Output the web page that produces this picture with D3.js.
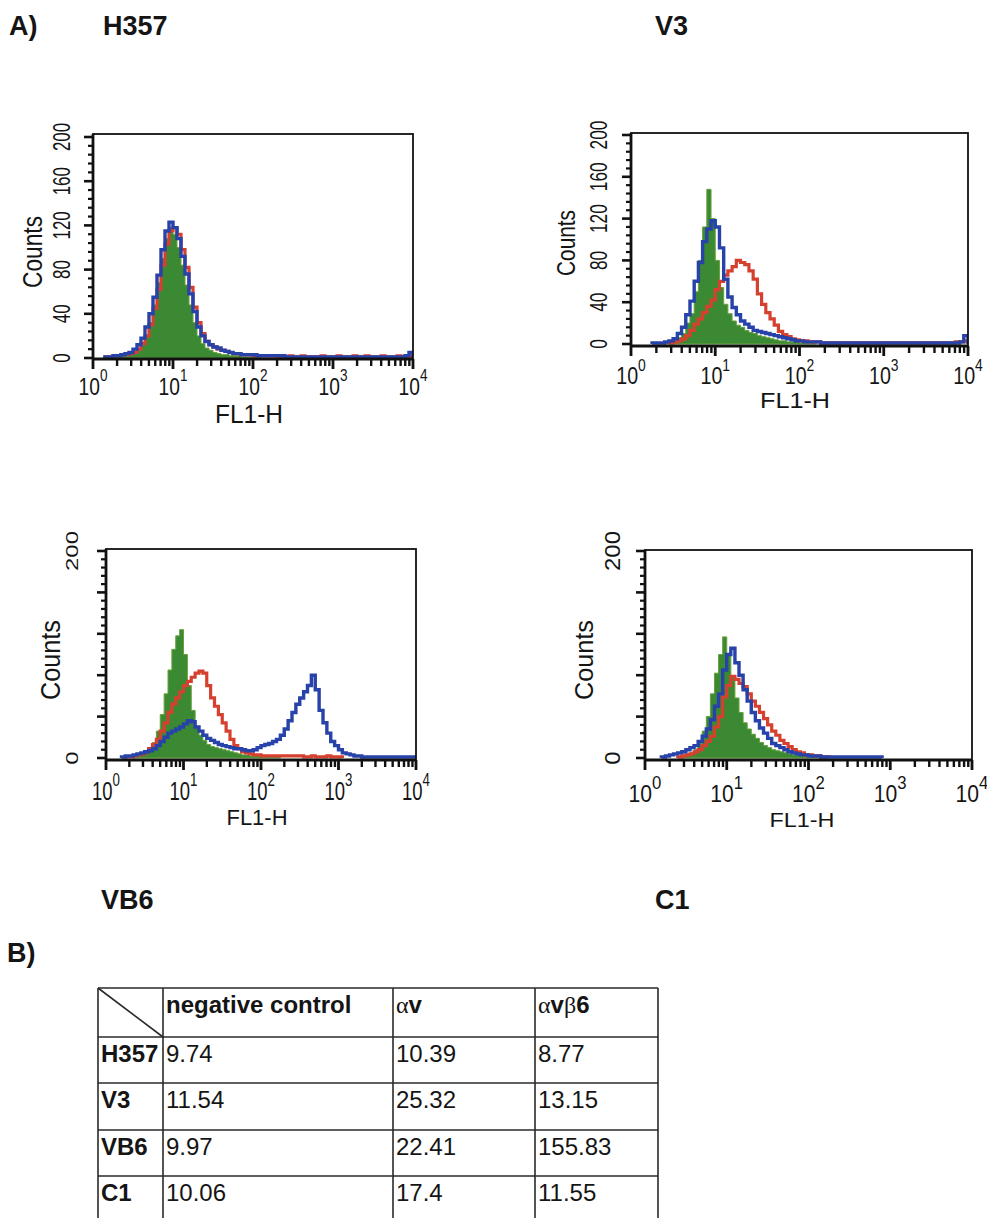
<!DOCTYPE html>
<html><head><meta charset="utf-8">
<script src="https://cdn.jsdelivr.net/npm/d3@7"></script>
<style>
body{margin:0;background:#fff}
svg{display:block}
text{font-family:"Liberation Sans",Arial,Helvetica,sans-serif;fill:#151515}
</style>
</head><body>
<svg id="chart" width="987" height="1218"></svg>
<script>
// ---------------- DATA ----------------
const cellLines = ["H357", "V3", "VB6", "C1"];
const seriesNames = ["negative control", "αv", "αvβ6"];
const binWidthLog = 0.05; // histogram channel width in log10 units, starting at 10^0

// Counts per channel
const h357Neg  = [0,0,0,0,1,1,1,2,2,3, 4,7,12,20,32,48,68,90,108,118, 112,100,84,66,48,32,20,13,9,7, 5,4,3,3,2,2,2,1,1,1, 1,1];
const h357Av   = [0,0,0,1,1,2,2,3,3,4, 5,8,13,20,30,45,62,84,103,115, 118,112,98,82,64,46,32,22,15,12, 10,8,7,6,5,4,4,3,3,3, 2,2,2,2,2,2,1,1,1,2, 1,1,2,1,1,1,1,2,1,1, 1,2,1,1,1,2,1,1,2,1, 1,1,2,1,1,1,2,1,1,2];
const h357Avb6 = [0,0,0,1,1,2,2,3,4,5, 8,12,18,28,40,55,75,98,115,123, 118,108,92,76,58,42,28,20,15,12, 10,9,7,6,5,4,4,3,3,3, 3,2,2,2,2,2,2,2,1,1, 1,1,1,1,1,1,1,1,1,1, 1,1,1,1,1,1,1,1,1,1, 1,1,1,1,1,1,1,1,2,5];

const v3Neg  = [0,0,0,0,0,0,0,0,1,2, 3,6,10,20,29,50,80,112,148,120, 80,54,38,29,22,18,16,13,11,10, 8,7,6,5,4,3,3,2,2,2, 1,1,1,1];
const v3Av   = [0,0,0,0,0,0,0,0,0,1, 2,3,5,8,13,19,24,30,36,42, 52,60,66,70,74,80,78,76,70,62, 48,38,30,24,18,12,9,7,5,4, 3,3,2,2,2,1,1,1,1,1, 1,1,1,1,1,1,1,1,1,1, 1,1,1,1,1,1,1,1,1,1, 1,1,1,1,1,1,1,2,2,3];
const v3Avb6 = [0,0,0,0,0,1,1,1,2,3, 5,10,16,28,41,60,78,98,110,118, 112,92,62,45,35,28,22,19,16,13, 12,11,10,9,8,7,6,5,4,3, 3,2,2,2,2,1,1,1,1,1, 1,1,1,1,1,1,1,1,1,1, 1,1,1,1,1,1,1,1,1,1, 1,1,1,1,1,1,1,1,2,8];

const vb6Neg  = [0,0,0,0,0,0,0,1,2,3, 5,9,15,26,42,62,85,105,118,124, 100,70,46,30,22,17,13,11,10,9, 8,7,6,5,4,3,3,2,2,2, 1,1,1,1,1];
const vb6Av   = [0,0,0,0,0,1,1,2,3,4, 6,9,13,18,26,34,44,52,58,64, 70,74,78,82,84,82,70,58,50,42, 34,26,18,12,9,6,5,4,3,3, 2,2,2,2,2,2,2,2,2,2, 2,1,1,2,1,1,1,2,1,1, 1];
const vb6Avb6 = [0,0,0,0,1,2,2,3,4,5, 6,7,9,12,16,20,24,26,28,30, 33,36,35,30,26,22,19,17,15,13, 12,11,10,9,9,8,7,7,8,10, 12,13,14,16,18,22,28,36,44,52, 58,64,70,80,66,46,34,24,16,12, 8,5,4,3,2,2,1,1,1,1, 1,1,1,1,1,1,1,1,1,1];

const c1Neg  = [0,0,0,0,0,0,0,0,1,2, 3,5,8,14,26,40,62,82,100,117, 100,78,58,44,34,28,23,19,15,12, 10,8,7,6,5,4,3,3,2,2, 1,1,1,1];
const c1Av   = [0,0,0,0,0,0,0,0,1,2, 3,4,6,8,12,16,21,30,40,59, 70,79,76,72,69,62,55,50,44,38, 32,26,22,17,14,11,8,6,5,3, 3,2,2,1,1];
const c1Avb6 = [0,0,0,0,1,2,3,4,5,6, 8,10,12,16,21,28,37,50,62,85, 100,106,92,80,66,55,44,36,29,24, 19,14,12,10,8,6,5,4,3,3, 2,2,2,1,1,1,1,1,1,1, 1,1,1,1,1,1,1,1];

const xTickExponents = [0, 1, 2, 3, 4];
const yTicksFull = [0, 40, 80, 120, 160, 200];
const yTicksShort = [0, 200];
const xAxisTitle = "FL1-H";
const yAxisTitle = "Counts";

const tableNeg  = ["9.74", "11.54", "9.97", "10.06"];
const tableAv   = ["10.39", "25.32", "22.41", "17.4"];
const tableAvb6 = ["8.77", "13.15", "155.83", "11.55"];

// ---------------- LAYOUT ----------------
const colors = {neg: "#3b8a33", negEdge: "#66a03a", av: "#d6402e", avb6: "#2742a8"};

const panels = [
  {neg: h357Neg, av: h357Av, avb6: h357Avb6, yTicks: yTicksFull,
   left: 93, right: 413, top: 134, axisY: 359, y0: 358, y200: 137,
   yLabX: 70, yFont: 23, yDigit: 9.4, countsX: 42, countsY: 252, countsLen: 72, countsFont: 27,
   xLabFont: 24, xSupFont: 17, xLabScale: 0.8, xBase: 395, xSupBase: 381,
   flY: 423, flCx: 249, flW: 68, flFont: 25},
  {neg: v3Neg, av: v3Av, avb6: v3Avb6, yTicks: yTicksFull,
   left: 631, right: 968, top: 133, axisY: 346, y0: 344, y200: 135,
   yLabX: 607, yFont: 23, yDigit: 9.6, countsX: 575, countsY: 243, countsLen: 66, countsFont: 25,
   xLabFont: 24, xSupFont: 17, xLabScale: 0.82, xBase: 384, xSupBase: 371,
   flY: 408, flCx: 795, flW: 70, flFont: 22},
  {neg: vb6Neg, av: vb6Av, avb6: vb6Avb6, yTicks: yTicksShort,
   left: 106, right: 416, top: 549, axisY: 760, y0: 758, y200: 551,
   yLabX: 78, yFont: 17, yDigit: 13.3, countsX: 60, countsY: 660, countsLen: 80, countsFont: 27,
   xLabFont: 25, xSupFont: 18, xLabScale: 0.74, xBase: 800, xSupBase: 786,
   flY: 825, flCx: 257, flW: 61, flFont: 22},
  {neg: c1Neg, av: c1Av, avb6: c1Avb6, yTicks: yTicksShort,
   left: 645, right: 972, top: 550, axisY: 760, y0: 758, y200: 551,
   yLabX: 620, yFont: 22, yDigit: 13.3, countsX: 593, countsY: 660, countsLen: 80, countsFont: 25,
   xLabFont: 24, xSupFont: 19, xLabScale: 0.88, xBase: 802, xSupBase: 789,
   flY: 827, flCx: 802, flW: 65, flFont: 21}
];

const svg = d3.select("#chart");
svg.append("rect").attr("width", 987).attr("height", 1218).attr("fill", "#fff");

function stepPoints(vals) {
  const f = vals.findIndex(v => v > 0);
  let l = vals.length - 1;
  while (l >= 0 && vals[l] === 0) l--;
  const pts = [[f * binWidthLog, 0]];
  for (let i = f; i <= l; i++) {
    pts.push([i * binWidthLog, vals[i]]);
    pts.push([(i + 1) * binWidthLog, vals[i]]);
  }
  pts.push([(l + 1) * binWidthLog, 0]);
  return pts;
}

const xMinorTicks = [];
for (let e = 0; e < 4; e++) for (let m = 1; m <= 9; m++) xMinorTicks.push(m * Math.pow(10, e));
xMinorTicks.push(1e4);
const isDecade = d => Math.abs(Math.log10(d) - Math.round(Math.log10(d))) < 1e-9;
const yMinorTicks = d3.range(0, 201, 8);

panels.forEach((p, pi) => {
  const g = svg.append("g");
  const x = d3.scaleLog().domain([1, 1e4]).range([p.left, p.right]);
  const y = d3.scaleLinear().domain([0, 200]).range([p.y0, p.y200]);

  const clipId = "clip" + pi;
  g.append("clipPath").attr("id", clipId).append("rect")
    .attr("x", p.left).attr("y", p.top).attr("width", p.right - p.left).attr("height", p.axisY - p.top);
  const plot = g.append("g").attr("clip-path", `url(#${clipId})`);

  const area = d3.area().x(d => x(Math.pow(10, d[0]))).y0(y(0)).y1(d => y(d[1]));
  const line = d3.line().x(d => x(Math.pow(10, d[0]))).y(d => y(d[1]));

  plot.append("path").datum(stepPoints(p.neg)).attr("d", area)
    .attr("fill", colors.neg).attr("stroke", colors.negEdge).attr("stroke-width", 1);
  plot.append("path").datum(stepPoints(p.av)).attr("d", line)
    .attr("fill", "none").attr("stroke", colors.av).attr("stroke-width", 3.2);
  plot.append("path").datum(stepPoints(p.avb6)).attr("d", line)
    .attr("fill", "none").attr("stroke", colors.avb6).attr("stroke-width", 3.4);

  // frame
  g.append("rect").attr("x", p.left).attr("y", p.top)
    .attr("width", p.right - p.left).attr("height", p.axisY - p.top)
    .attr("fill", "none").attr("stroke", "#111").attr("stroke-width", 1.8);
  // axis lines (heavier)
  g.append("line").attr("x1", p.left).attr("x2", p.right).attr("y1", p.axisY).attr("y2", p.axisY)
    .attr("stroke", "#111").attr("stroke-width", 2.8);
  g.append("line").attr("x1", p.left).attr("x2", p.left).attr("y1", p.top).attr("y2", p.axisY)
    .attr("stroke", "#111").attr("stroke-width", 2.8);

  // x ticks
  g.append("g").selectAll("line").data(xMinorTicks).join("line")
    .attr("x1", d => x(d)).attr("x2", d => x(d))
    .attr("y1", p.axisY).attr("y2", d => p.axisY + (isDecade(d) ? 10 : 7))
    .attr("stroke", "#111").attr("stroke-width", d => (isDecade(d) ? 2.8 : 2.4));

  xTickExponents.forEach(e => {
    const tx = x(Math.pow(10, e));
    const t = g.append("text")
      .attr("transform", `translate(${tx},${p.xBase}) scale(${p.xLabScale},1)`)
      .attr("text-anchor", "middle").attr("font-size", p.xLabFont);
    t.append("tspan").text("10");
    t.append("tspan").attr("font-size", p.xSupFont).attr("dy", p.xSupBase - p.xBase).text(String(e));
  });
  g.append("text").attr("x", p.flCx).attr("y", p.flY).attr("text-anchor", "middle")
    .attr("font-size", p.flFont).attr("textLength", p.flW).attr("lengthAdjust", "spacingAndGlyphs")
    .text(xAxisTitle);

  // y ticks
  g.append("g").selectAll("line").data(yMinorTicks).join("line")
    .attr("y1", d => y(d)).attr("y2", d => y(d))
    .attr("x1", p.left).attr("x2", d => p.left - (d % 40 === 0 ? 9 : 5))
    .attr("stroke", "#111").attr("stroke-width", d => (d % 40 === 0 ? 2.6 : 2.2));

  p.yTicks.forEach(t => {
    const s = String(t);
    g.append("text").attr("transform", `translate(${p.yLabX},${y(t)}) rotate(-90)`)
      .attr("text-anchor", "middle").attr("font-size", p.yFont)
      .attr("textLength", s.length * p.yDigit).attr("lengthAdjust", "spacingAndGlyphs")
      .text(s);
  });
  g.append("text").attr("transform", `translate(${p.countsX},${p.countsY}) rotate(-90)`)
    .attr("text-anchor", "middle").attr("font-size", p.countsFont)
    .attr("textLength", p.countsLen).attr("lengthAdjust", "spacingAndGlyphs")
    .text(yAxisTitle);
});

// ---------------- TITLES ----------------
const titles = [
  {t: "A)", x: 9, y: 35}, {t: cellLines[0], x: 103, y: 35}, {t: cellLines[1], x: 655, y: 35},
  {t: cellLines[2], x: 101, y: 909}, {t: cellLines[3], x: 655, y: 909}, {t: "B)", x: 7, y: 962}
];
titles.forEach(d => svg.append("text").attr("x", d.x).attr("y", d.y)
  .attr("font-size", 27).attr("font-weight", "bold").text(d.t));

// ---------------- TABLE ----------------
const colX = [98, 163, 393, 535, 658];
const rowY = [988, 1037, 1083, 1130, 1176];
const tableBottom = 1225;
const tg = svg.append("g").attr("stroke", "#2a2a2a").attr("stroke-width", 1.6);
rowY.forEach(yy => tg.append("line").attr("x1", colX[0]).attr("x2", colX[4]).attr("y1", yy).attr("y2", yy));
colX.forEach(xx => tg.append("line").attr("x1", xx).attr("x2", xx).attr("y1", rowY[0]).attr("y2", tableBottom));
tg.append("line").attr("x1", colX[0]).attr("y1", rowY[0]).attr("x2", colX[1]).attr("y2", rowY[1]);

const fs = 24;
const serif = "'Liberation Serif','DejaVu Serif',serif";
svg.append("text").attr("x", colX[1] + 3).attr("y", rowY[0] + 25).attr("font-size", fs).attr("font-weight", "bold").text(seriesNames[0]);
const h2 = svg.append("text").attr("x", colX[2] + 3).attr("y", rowY[0] + 25).attr("font-size", fs);
h2.append("tspan").attr("font-family", serif).text("α");
h2.append("tspan").attr("font-weight", "bold").text("v");
const h3 = svg.append("text").attr("x", colX[3] + 3).attr("y", rowY[0] + 25).attr("font-size", fs);
h3.append("tspan").attr("font-family", serif).text("α");
h3.append("tspan").attr("font-weight", "bold").text("v");
h3.append("tspan").attr("font-family", serif).text("β");
h3.append("tspan").attr("font-weight", "bold").text("6");

cellLines.forEach((c, i) => {
  const by = rowY[i + 1] + 25;
  svg.append("text").attr("x", colX[0] + 3).attr("y", by).attr("font-size", fs).attr("font-weight", "bold").text(c);
  svg.append("text").attr("x", colX[1] + 3).attr("y", by).attr("font-size", fs).text(tableNeg[i]);
  svg.append("text").attr("x", colX[2] + 3).attr("y", by).attr("font-size", fs).text(tableAv[i]);
  svg.append("text").attr("x", colX[3] + 3).attr("y", by).attr("font-size", fs).text(tableAvb6[i]);
});
</script>
</body></html>
